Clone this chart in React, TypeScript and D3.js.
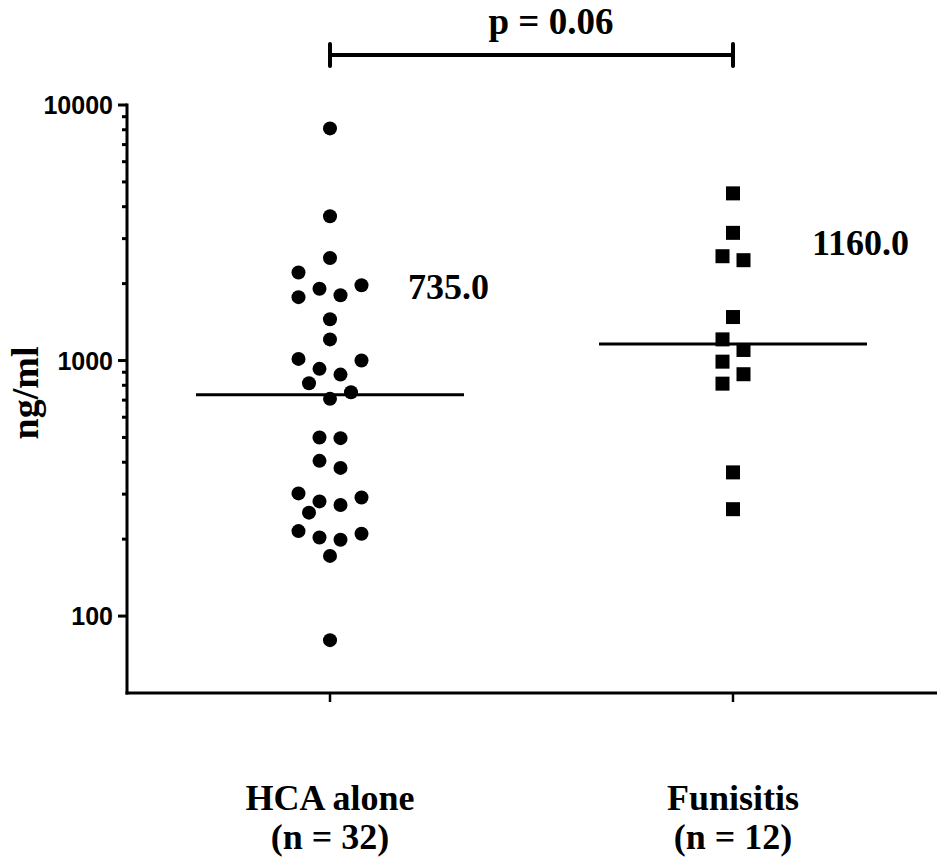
import React from "react";
import * as d3 from "d3";

const categories = ["HCA alone", "Funisitis"];
const categoryN = [32, 12];
const hcaValues = [8100, 3670, 2520, 2210, 1970, 1910, 1800, 1770, 1450, 1210, 1015, 1000, 928, 881, 815, 751, 708, 500, 497, 405, 380, 302, 291, 281, 272, 254, 215, 210, 203, 199, 172, 80.5];
const funisitisValues = [4510, 3160, 2560, 2470, 1480, 1210, 1100, 990, 884, 812, 365, 262];
const medians = [735.0, 1160.0];
const majorTicks = [100, 1000, 10000];
const pValueLabel = "p = 0.06";
const yAxisLabel = "ng/ml";

const W = 937;
const H = 867;
const SERIF = "'Liberation Serif', 'Times New Roman', Times, serif";
const SANS = "'Liberation Sans', Arial, Helvetica, sans-serif";

const y = d3.scaleLog().domain([50, 10000]).range([693, 105]);
const x = d3.scalePoint<string>().domain(categories).range([330, 733]);
const axisLeftX = 127;
const axisBottomY = 693;

const minorTicks: number[] = [];
for (let d = 100; d < 10000; d *= 10) {
  for (let k = 2; k <= 9; k++) minorTicks.push(d * k);
}

type Placed = { v: number; y: number; dx: number };

// Prism-like column scatter: points closer than one symbol size form a row group,
// which is spread sideways following a fixed slot sequence (outer slots first).
function swarm(values: number[], size: number, step: number, spread: number, shape: "circle" | "square"): Placed[] {
  const pts = values.map((v) => ({ v, y: y(v) })).sort((a, b) => a.y - b.y);
  const clusters: { v: number; y: number }[][] = [];
  let cur: { v: number; y: number }[] = [];
  pts.forEach((p, k) => {
    if (k > 0 && p.y - pts[k - 1].y >= size) {
      clusters.push(cur);
      cur = [];
    }
    cur.push(p);
  });
  clusters.push(cur);

  const seq: number[] = [-spread, spread];
  for (let s = 1; s < spread; s++) seq.push(-s, s);
  seq.push(0);

  const collide = (dx: number, dy: number) =>
    shape === "circle" ? Math.hypot(dx, dy) < size : Math.abs(dx) < size && Math.abs(dy) < size;

  const placed: Placed[] = [];
  for (const c of clusters) {
    if (c.length === 1) {
      placed.push({ ...c[0], dx: 0 });
      continue;
    }
    c.forEach((p, k) => {
      const order = c.length === 2 ? [-1, 1] : seq;
      let best = 0;
      for (let j = 0; j < order.length; j++) {
        const s = order[(k + j) % order.length];
        if (!placed.some((q) => collide(s * step - q.dx, p.y - q.y))) {
          best = s;
          break;
        }
      }
      placed.push({ ...p, dx: best * step });
    });
  }
  return placed;
}

export default function App() {
  const hcaPts = swarm(hcaValues, 14, 10.5, 3, "circle");
  const funPts = swarm(funisitisValues, 14, 10.5, 1, "square");
  const cx0 = x(categories[0])!;
  const cx1 = x(categories[1])!;
  const medianHalf = 134;

  return (
    <svg width={W} height={H} style={{ position: "absolute", left: 0, top: 0, background: "#fff" }}>
      {/* y axis */}
      <line x1={axisLeftX} x2={axisLeftX} y1={y(10000) - 1.5} y2={axisBottomY + 1.5} stroke="#000" strokeWidth={3} />
      {majorTicks.map((t) => (
        <g key={"M" + t}>
          <line x1={axisLeftX - 9} x2={axisLeftX} y1={y(t)} y2={y(t)} stroke="#000" strokeWidth={3} />
          <text x={113} y={y(t) + 9} textAnchor="end" fontFamily={SANS} fontWeight="bold" fontSize={25}>
            {t}
          </text>
        </g>
      ))}
      {minorTicks.map((t) => (
        <line key={"m" + t} x1={axisLeftX - 5} x2={axisLeftX} y1={y(t)} y2={y(t)} stroke="#000" strokeWidth={3} />
      ))}
      <text
        transform={`translate(38,393) rotate(-90)`}
        textAnchor="middle"
        fontFamily={SERIF}
        fontWeight="bold"
        fontSize={38}
      >
        {yAxisLabel}
      </text>

      {/* x axis */}
      <line x1={axisLeftX - 1.5} x2={W} y1={axisBottomY} y2={axisBottomY} stroke="#000" strokeWidth={3} />
      {categories.map((c, i) => (
        <g key={c}>
          <line x1={x(c)} x2={x(c)} y1={axisBottomY} y2={axisBottomY + 9} stroke="#000" strokeWidth={2.5} />
          <text x={x(c)} y={810} textAnchor="middle" fontFamily={SERIF} fontWeight="bold" fontSize={36}>
            {c}
          </text>
          <text x={x(c)} y={849} textAnchor="middle" fontFamily={SERIF} fontWeight="bold" fontSize={36}>
            {`(n = ${categoryN[i]})`}
          </text>
        </g>
      ))}

      {/* points */}
      {hcaPts.map((p, i) => (
        <circle key={"h" + i} cx={cx0 + p.dx} cy={p.y} r={7} fill="#000" />
      ))}
      {funPts.map((p, i) => (
        <rect key={"f" + i} x={cx1 + p.dx - 7} y={p.y - 7} width={14} height={14} fill="#000" />
      ))}

      {/* medians */}
      {medians.map((m, i) => (
        <line
          key={"med" + i}
          x1={x(categories[i])! - medianHalf}
          x2={x(categories[i])! + medianHalf}
          y1={y(m)}
          y2={y(m)}
          stroke="#000"
          strokeWidth={3}
        />
      ))}
      <text x={408} y={299} fontFamily={SERIF} fontWeight="bold" fontSize={36}>
        {medians[0].toFixed(1)}
      </text>
      <text x={812} y={255} fontFamily={SERIF} fontWeight="bold" fontSize={36}>
        {medians[1].toFixed(1)}
      </text>

      {/* significance bracket */}
      <line x1={cx0} x2={cx1} y1={55} y2={55} stroke="#000" strokeWidth={4} />
      <line x1={cx0} x2={cx0} y1={44} y2={66} stroke="#000" strokeWidth={4} strokeLinecap="round" />
      <line x1={cx1} x2={cx1} y1={44} y2={66} stroke="#000" strokeWidth={4} strokeLinecap="round" />
      <text x={551} y={34} textAnchor="middle" fontFamily={SERIF} fontWeight="bold" fontSize={37}>
        {pValueLabel}
      </text>
    </svg>
  );
}
